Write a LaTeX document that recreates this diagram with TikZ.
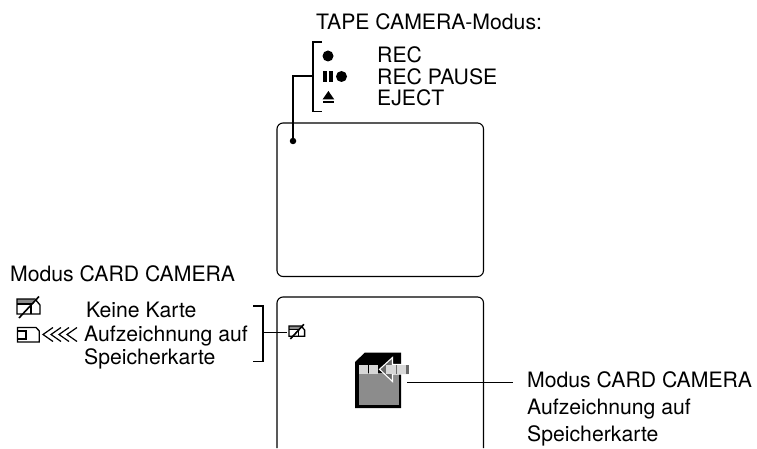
\documentclass[tikz,border=0pt]{standalone}
\usepackage{fontspec}
\setmainfont{TeX Gyre Heros}
\usetikzlibrary{positioning,calc}
\definecolor{CardGrey}{RGB}{140,140,140}
\definecolor{BandGrey}{RGB}{215,215,215}
\definecolor{BarGrey}{RGB}{105,105,105}
\tikzset{
  screen/.style={draw, line width=1.1pt, rounded corners=6pt},
  bracket/.style={draw, line width=1.6pt},
  label/.style={anchor=base west, inner sep=0pt, align=left},
  nocard/.pic={
    \fill[CardGrey] (0,0) rectangle (17,5);
    \draw[line width=1.3pt] (0,0) -- (18,0) -- (23,6) -- (23,15) -- (0,15) -- cycle;
    \draw[line width=1.1pt] (0,5) -- (14,5) -- (14,15);
    \draw[line width=1.6pt] (2,19) -- (22,-2.5);
  }
}
\begin{document}
\begin{tikzpicture}[x=1pt, y=-1pt, every node/.style={font=\fontsize{21.2}{24}\selectfont}]
  \useasboundingbox (0,0) rectangle (757,449);
  % upper screen
  \draw[screen] (277,123) rectangle (483.5,276.5);
  \node[circle, fill=black, inner sep=0pt, minimum size=6.5pt] (recdot) at (293,141) {};
  \node[label] (tapetitle) at (316,29.3) {TAPE CAMERA-Modus:};
  \node[label] (rec) at (377,62.3) {REC};
  \node[label] (recpause) at (377,84.5) {REC PAUSE};
  \node[label] (eject) at (377,106) {EJECT};
  \node[circle, fill=black, inner sep=0pt, minimum size=11pt] (recsym) at (328,56) {};
  \node[circle, fill=black, inner sep=0pt, minimum size=11pt] (pausesym) at (341.5,76.5) {};
  \fill (322.5,71) rectangle (326.8,82);
  \fill (328.6,71) rectangle (333,82);
  \fill (322.5,99.5) -- (328.4,91) -- (334.3,99.5) -- cycle;
  \fill (322.5,101) rectangle (334.3,102.8);
  \coordinate (tapemid) at (313,76);
  \draw[bracket] (322,42) -- (313,42) -- (313,111.5) -- (322,111.5);
  \draw[bracket] (tapemid) -| (recdot);
  % lower screen, runs off at the bottom
  \draw[screen] (277,448) -- (277,297) -- (483.5,297) -- (483.5,448);
  \node[label] (cardtitle) at (10,281.7) {Modus CARD CAMERA};
  \pic at (17,299) {nocard};
  \pic[scale=0.68] at (289,326) {nocard};
  \draw[line width=1.3pt] (17.5,327.5) -- (36,327.5) -- (39.3,331) -- (39.3,342) -- (17.5,342) -- cycle;
  \draw[line width=1.1pt] (17.5,331) -- (26,331) -- (26,339) -- (17.5,339);
  \foreach \x in {43,51,59,67} {
    \draw[line width=1.2pt] (\x+10,327.5) -- (\x,334.5) -- (\x+10,341.5);
  }
  \node[label] (nocardtext) at (86,317.3) {Keine Karte};
  \node[label] (recordtext) at (84,341.7) {Aufzeichnung auf};
  \node[label] (recordtextb) at (84,364) {Speicherkarte};
  \coordinate (cardmid) at (263,332.5);
  \coordinate (nocardsmall) at (287,332.5);
  \draw[bracket] (253,306) -- (263,306) -- (263,361.5) -- (253,361.5);
  \draw[line width=1.4pt] (cardmid) -- (nocardsmall);
  % memory card
  \fill (365,352.5) -- (401,352.5) -- (401,408) -- (355,408) -- (355,362) -- cycle;
  \fill[CardGrey] (358.5,373) rectangle (398.5,405);
  \fill[BandGrey] (359,364.5) rectangle (367.7,374);
  \fill[BandGrey] (369,364.5) rectangle (378.3,374);
  \draw[white, line width=1.1pt, fill=BarGrey] (379.5,369.3) -- (392.5,357.5) -- (392.5,364.5) -- (408.5,364.5) -- (408.5,374) -- (392.5,374) -- (392.5,381.5) -- cycle;
  \fill[BandGrey] (386,365) rectangle (408.7,374);
  \fill[BarGrey] (395.8,364.5) rectangle (397.4,374);
  \fill[BarGrey] (406,364.5) rectangle (408.7,374);
  \coordinate (cardend) at (407,382.5);
  \coordinate (cardlabel) at (512.5,382.5);
  \draw[line width=1.4pt] (cardend) -- (cardlabel);
  \node[label] (cardline) at (527,387.3) {Modus CARD CAMERA};
  \node[label] (cardlineb) at (527,414.3) {Aufzeichnung auf};
  \node[label] (cardlinec) at (527,441) {Speicherkarte};
\end{tikzpicture}
\end{document}
